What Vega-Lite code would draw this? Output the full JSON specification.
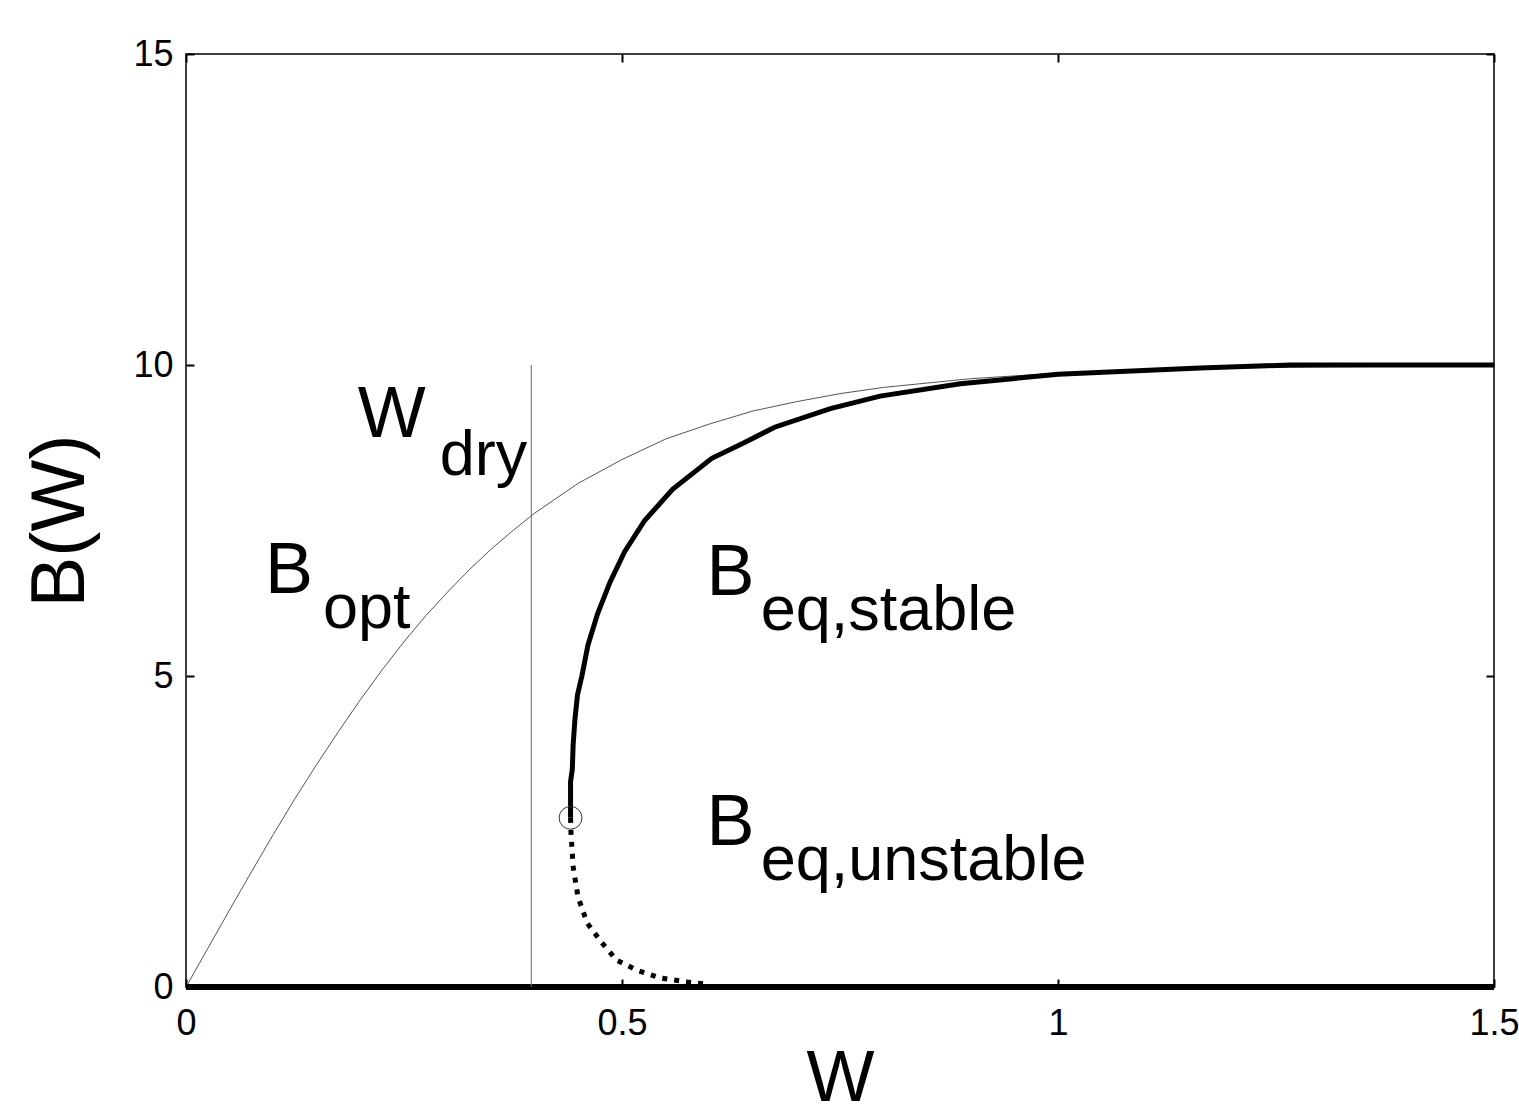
{
  "$schema": "https://vega.github.io/schema/vega-lite/v6.json",
  "width": 1308,
  "height": 933,
  "autosize": {"type": "none"},
  "padding": {"left": 186, "top": 54, "right": 25, "bottom": 131},
  "background": "white",
  "config": {
    "view": {"stroke": "#000000", "strokeWidth": 1.5},
    "font": "Liberation Sans",
    "axis": {
      "domain": false,
      "grid": false,
      "tickColor": "#000000",
      "tickWidth": 2,
      "labelColor": "#000000",
      "titleColor": "#000000",
      "labelFont": "Liberation Sans",
      "titleFont": "Liberation Sans",
      "titleFontWeight": "normal"
    }
  },
  "datasets": {
    "opt": [
      {"W": 0, "B": 0}, {"W": 0.025, "B": 0.62}, {"W": 0.05, "B": 1.24}, {"W": 0.075, "B": 1.85},
      {"W": 0.1, "B": 2.45}, {"W": 0.125, "B": 3.03}, {"W": 0.15, "B": 3.58}, {"W": 0.175, "B": 4.11},
      {"W": 0.2, "B": 4.62}, {"W": 0.225, "B": 5.1}, {"W": 0.25, "B": 5.55}, {"W": 0.275, "B": 5.97},
      {"W": 0.3, "B": 6.35}, {"W": 0.325, "B": 6.71}, {"W": 0.35, "B": 7.04}, {"W": 0.375, "B": 7.34},
      {"W": 0.4, "B": 7.62}, {"W": 0.45, "B": 8.1}, {"W": 0.5, "B": 8.48}, {"W": 0.55, "B": 8.81},
      {"W": 0.6, "B": 9.05}, {"W": 0.65, "B": 9.26}, {"W": 0.7, "B": 9.41}, {"W": 0.75, "B": 9.54},
      {"W": 0.8, "B": 9.64}, {"W": 0.9, "B": 9.78}, {"W": 1.0, "B": 9.87}, {"W": 1.1, "B": 9.92},
      {"W": 1.2, "B": 9.95}, {"W": 1.3, "B": 9.97}, {"W": 1.4, "B": 9.98}, {"W": 1.5, "B": 9.99}
    ],
    "dry": [{"W": 0.396, "B": 0, "B2": 10}],
    "zero": [{"W": 0, "B": 0}, {"W": 1.5, "B": 0}],
    "stable": [
      {"W": 0.441, "B": 2.72}, {"W": 0.441, "B": 3.3}, {"W": 0.443, "B": 3.5}, {"W": 0.444, "B": 3.9},
      {"W": 0.446, "B": 4.3}, {"W": 0.449, "B": 4.7}, {"W": 0.454, "B": 5.0}, {"W": 0.461, "B": 5.5},
      {"W": 0.472, "B": 6.0}, {"W": 0.486, "B": 6.5}, {"W": 0.503, "B": 7.0}, {"W": 0.526, "B": 7.5},
      {"W": 0.558, "B": 8.0}, {"W": 0.603, "B": 8.5}, {"W": 0.64, "B": 8.75}, {"W": 0.675, "B": 9.0},
      {"W": 0.739, "B": 9.3}, {"W": 0.796, "B": 9.5}, {"W": 0.888, "B": 9.7}, {"W": 1.0, "B": 9.85},
      {"W": 1.163, "B": 9.95}, {"W": 1.266, "B": 10.0}, {"W": 1.5, "B": 10.0}
    ],
    "unstable": [
      {"W": 0.441, "B": 2.72}, {"W": 0.4415, "B": 2.48}, {"W": 0.444, "B": 1.93}, {"W": 0.4495, "B": 1.45},
      {"W": 0.46, "B": 1.03}, {"W": 0.477, "B": 0.71}, {"W": 0.494, "B": 0.43}, {"W": 0.517, "B": 0.27},
      {"W": 0.544, "B": 0.145}, {"W": 0.575, "B": 0.08}, {"W": 0.595, "B": 0.05}
    ],
    "bif": [{"W": 0.441, "B": 2.72}],
    "mainlab": [
      {"W": 0.0906, "B": 6.33, "t": "B"},
      {"W": 0.197, "B": 8.84, "t": "W"},
      {"W": 0.597, "B": 6.30, "t": "B"},
      {"W": 0.597, "B": 2.28, "t": "B"}
    ],
    "sublab": [
      {"W": 0.157, "B": 5.77, "t": "opt"},
      {"W": 0.291, "B": 8.23, "t": "dry"},
      {"W": 0.659, "B": 5.74, "t": "eq,stable"},
      {"W": 0.659, "B": 1.72, "t": "eq,unstable"}
    ]
  },
  "resolve": {"axis": {"x": "independent", "y": "independent"}},
  "layer": [
    {
      "data": {"name": "opt"},
      "mark": {"type": "line", "color": "#555555", "strokeWidth": 1},
      "encoding": {
        "x": {"field": "W", "type": "quantitative", "scale": {"domain": [0, 1.5], "nice": false},
          "axis": {"orient": "bottom", "values": [0, 0.5, 1, 1.5], "format": "~g", "title": "W", "offset": -8, "tickSize": 8, "labelFlush": false, "labelFontSize": 36, "titleFontSize": 72, "labelPadding": 19, "titlePadding": 2}},
        "y": {"field": "B", "type": "quantitative", "scale": {"domain": [0, 15], "nice": false},
          "axis": {"orient": "left", "values": [0, 5, 10, 15], "title": "B(W)", "offset": -8, "tickSize": 8, "labelFlush": false, "labelFontSize": 36, "titleFontSize": 76, "labelPadding": 13, "titlePadding": 33}}
      }
    },
    {
      "data": {"name": "zero"},
      "mark": {"type": "line", "color": "#000000", "strokeWidth": 6},
      "encoding": {
        "x": {"field": "W", "type": "quantitative", "axis": {"orient": "top", "values": [0, 0.5, 1, 1.5], "labels": false, "title": null, "offset": -8, "tickSize": 8}},
        "y": {"field": "B", "type": "quantitative", "axis": {"orient": "right", "values": [0, 5, 10, 15], "labels": false, "title": null, "offset": -8, "tickSize": 8}}
      }
    },
    {
      "data": {"name": "dry"},
      "mark": {"type": "rule", "color": "#666666", "strokeWidth": 1},
      "encoding": {
        "x": {"field": "W", "type": "quantitative", "axis": null},
        "y": {"field": "B", "type": "quantitative", "axis": null},
        "y2": {"field": "B2"}
      }
    },
    {
      "data": {"name": "stable"},
      "mark": {"type": "line", "color": "#000000", "strokeWidth": 5},
      "encoding": {
        "x": {"field": "W", "type": "quantitative", "axis": null},
        "y": {"field": "B", "type": "quantitative", "axis": null},
        "order": {"field": "B", "type": "quantitative"}
      }
    },
    {
      "data": {"name": "unstable"},
      "mark": {"type": "line", "color": "#000000", "strokeWidth": 5, "strokeDash": [5, 7]},
      "encoding": {
        "x": {"field": "W", "type": "quantitative", "axis": null},
        "y": {"field": "B", "type": "quantitative", "axis": null},
        "order": {"field": "W", "type": "quantitative"}
      }
    },
    {
      "data": {"name": "bif"},
      "mark": {"type": "point", "filled": false, "color": "#333333", "strokeWidth": 1, "size": 520, "opacity": 1},
      "encoding": {
        "x": {"field": "W", "type": "quantitative", "axis": null},
        "y": {"field": "B", "type": "quantitative", "axis": null}
      }
    },
    {
      "data": {"name": "mainlab"},
      "mark": {"type": "text", "align": "left", "baseline": "alphabetic", "font": "Liberation Sans", "fontSize": 72, "color": "#000000"},
      "encoding": {
        "x": {"field": "W", "type": "quantitative", "axis": null},
        "y": {"field": "B", "type": "quantitative", "axis": null},
        "text": {"field": "t"}
      }
    },
    {
      "data": {"name": "sublab"},
      "mark": {"type": "text", "align": "left", "baseline": "alphabetic", "font": "Liberation Sans", "fontSize": 63, "color": "#000000"},
      "encoding": {
        "x": {"field": "W", "type": "quantitative", "axis": null},
        "y": {"field": "B", "type": "quantitative", "axis": null},
        "text": {"field": "t"}
      }
    }
  ]
}
